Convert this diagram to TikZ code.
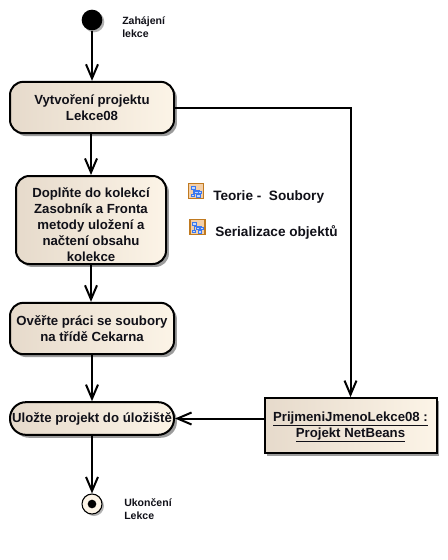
\documentclass[tikz,border=0pt]{standalone}
\usepackage{fontspec}
\setmainfont{Liberation Sans}
\usetikzlibrary{arrows.meta,shadows,calc}
\definecolor{fillL}{HTML}{E6DACB}
\definecolor{fillR}{HTML}{FCF4E7}
\definecolor{ink}{HTML}{101018}
\definecolor{iconfill}{HTML}{F3CFA8}
\definecolor{iconedge}{HTML}{C07A20}
\definecolor{iconblue}{HTML}{3A78F0}
\tikzset{
 x=0.75pt,y=-0.75pt,
 flow/.style={draw=black,line width=1.5pt,-{Straight Barb[length=10.5pt,width=9pt,line width=1.5pt]}},
 shad/.style={drop shadow={shadow xshift=2.2pt,shadow yshift=-2.2pt,fill=black!55,opacity=.7}},
 act/.style={draw=black,line width=1.5pt,left color=fillL,right color=fillR,shad,inner sep=0pt,align=center,
   font=\fontsize{9.9pt}{12pt}\selectfont\bfseries,text=ink},
 note/.style={font=\fontsize{7.9pt}{9.5pt}\selectfont\bfseries,align=left,inner sep=0pt,anchor=north west,text=ink},
 lbl/.style={font=\fontsize{10.2pt}{12pt}\selectfont\bfseries,inner sep=0pt,anchor=west,text=ink},
 pics/tree/.style={code={
   \draw[draw=iconedge,line width=.9pt,fill=iconfill] (0,0) rectangle (15,15);
   \draw[iconblue,line width=.55pt,fill=white!70!iconblue]
     (2.5,2.5) rectangle (6.5,5.5) (6,7.5) rectangle (9.5,10) (10,7.5) rectangle (13,10)
     (2.5,10.5) rectangle (5.5,13) (8,11) rectangle (11.5,13.5);
   \draw[iconblue,line width=.55pt] (4.5,5.5) -- (4.5,10.5) (4.5,7) -- (11.5,7) (7.8,7) -- (7.8,7.5) (9.5,10) -- (9.5,11);
 }}
}
\begin{document}
\begin{tikzpicture}
\useasboundingbox (0,0) rectangle (447,560);
\fill[white] (0,0) rectangle (447,560);
\node[circle,fill=black,minimum size=15.5pt,inner sep=0pt,drop shadow={shadow xshift=1.5pt,shadow yshift=-1.5pt,fill=black!50,opacity=.6}] (start) at (92,20) {};
\node[note] (startlbl) at (122,17) {Zahájení\\lekce};
\node[act,rounded corners=10pt,minimum width=123pt,minimum height=38.5pt] (a) at (92,107.5) {Vytvoření projektu\hspace{3pt}\\Lekce08\hspace{3pt}};
\node[act,rounded corners=10pt,minimum width=112.5pt,minimum height=66pt] (b) at (91,220) {\rule{0pt}{15pt}Doplňte do kolekcí\\Zasobník a Fronta\\metody uložení a\\načtení obsahu\\kolekce};
\node[act,rounded corners=10pt,minimum width=123pt,minimum height=38.5pt] (c) at (92,328.5) {Ověřte práci se soubory\hspace{1.5pt}\\na třídě Cekarna};
\node[act,rounded corners=12pt,minimum width=123pt,minimum height=24.5pt] (d) at (92,418.5) {Uložte projekt do úložiště};
\node[act,rectangle,minimum width=129pt,minimum height=41pt] (e) at (350.5,425.5) {\rule{0pt}{9.5pt}\underline{PrijmeniJmenoLekce08 :}\\\underline{Projekt NetBeans}};
\node[circle,draw=black,line width=.8pt,fill=fillR,minimum size=15pt,inner sep=0pt,drop shadow={shadow xshift=1.5pt,shadow yshift=-1.5pt,fill=black!50,opacity=.6}] (end) at (92,504) {};
\node[circle,fill=black,minimum size=6.5pt,inner sep=0pt] (enddot) at (92,504) {};
\node[note] (endlbl) at (124,498.5) {Ukončení\\Lekce};
\pic at (188.5,183.5) {tree};
\pic at (190,219.5) {tree};
\node[lbl] (t1) at (213,196.5) {Teorie -\ \ Soubory};
\node[lbl] (t2) at (215,232.5) {Serializace objektů};
\draw[flow] (start) -- (a);
\draw[flow] (a.south -| b.north) -- (b.north);
\draw[flow] (b.south) -- (b.south |- c.north);
\draw[flow] (c) -- (d);
\draw[flow] (d) -- (end);
\draw[flow] (a.east) -| (e.north);
\draw[flow] (e.west |- d.east) -- (d.east);
\end{tikzpicture}
\end{document}
